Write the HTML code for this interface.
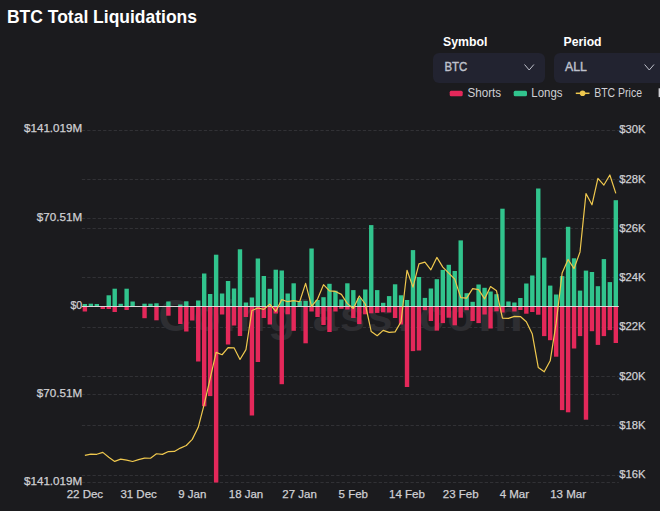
<!DOCTYPE html>
<html><head><meta charset="utf-8"><title>BTC Total Liquidations</title>
<style>
html,body{margin:0;padding:0;}
body{width:660px;height:511px;overflow:hidden;background:#1b1b1e;position:relative;font-family:'Liberation Sans', sans-serif;}
svg{position:absolute;left:0;top:0;}
.sel{position:absolute;top:53px;width:112px;height:30px;border-radius:6px;background:#222330;}
</style></head>
<body>
<div class="sel" style="left:433px"></div>
<div class="sel" style="left:554px"></div>
<svg width="660" height="511" viewBox="0 0 660 511">
<text x="7" y="23.3" font-family="'Liberation Sans', sans-serif" font-weight="bold" font-size="19" fill="#ffffff" textLength="190" lengthAdjust="spacingAndGlyphs">BTC Total Liquidations</text>
<text x="443" y="45.7" font-family="'Liberation Sans', sans-serif" font-weight="bold" font-size="13" fill="#ffffff" textLength="44.5" lengthAdjust="spacingAndGlyphs">Symbol</text>
<text x="563.6" y="45.7" font-family="'Liberation Sans', sans-serif" font-weight="bold" font-size="13" fill="#ffffff" textLength="38" lengthAdjust="spacingAndGlyphs">Period</text>
<text x="444.5" y="71.3" font-family="'Liberation Sans', sans-serif" font-size="13.5" fill="#bfc1cc" stroke="#bfc1cc" stroke-width="0.45" textLength="22.8" lengthAdjust="spacingAndGlyphs">BTC</text>
<text x="565" y="71.3" font-family="'Liberation Sans', sans-serif" font-size="13.5" fill="#bfc1cc" stroke="#bfc1cc" stroke-width="0.45" textLength="21.8" lengthAdjust="spacingAndGlyphs">ALL</text>
<polyline points="524.5,64.5 529.2,70 533.9,64.5" fill="none" stroke="#c0c2cc" stroke-width="1"/>
<polyline points="644.6,64.5 649.3,70 654,64.5" fill="none" stroke="#c0c2cc" stroke-width="1"/>
<rect x="449.7" y="90.8" width="13" height="5.4" rx="1.5" fill="#e4285a"/>
<text x="467.5" y="96.8" font-family="'Liberation Sans', sans-serif" font-size="12.5" fill="#d0d0d4" textLength="33.7" lengthAdjust="spacingAndGlyphs">Shorts</text>
<rect x="513.7" y="90.8" width="13.3" height="5.4" rx="1.5" fill="#31c48d"/>
<text x="531.3" y="96.8" font-family="'Liberation Sans', sans-serif" font-size="12.5" fill="#d0d0d4" textLength="31.2" lengthAdjust="spacingAndGlyphs">Longs</text>
<line x1="575.8" y1="93.3" x2="589.5" y2="93.3" stroke="#efc84e" stroke-width="1.5"/>
<circle cx="582.6" cy="93.3" r="2.8" fill="#efc84e"/>
<text x="594.2" y="96.8" font-family="'Liberation Sans', sans-serif" font-size="12.5" fill="#d0d0d4" textLength="47.8" lengthAdjust="spacingAndGlyphs">BTC Price</text>
<rect x="658.6" y="88.3" width="3" height="8.8" fill="#d0d0d4"/>
<line x1="81.9" y1="130.5" x2="618.8" y2="130.5" stroke="#313135" stroke-width="1" stroke-dasharray="3.3 2"/>
<line x1="81.9" y1="218.5" x2="618.8" y2="218.5" stroke="#313135" stroke-width="1" stroke-dasharray="3.3 2"/>
<line x1="81.9" y1="394.5" x2="618.8" y2="394.5" stroke="#313135" stroke-width="1" stroke-dasharray="3.3 2"/>
<line x1="81.9" y1="482.5" x2="618.8" y2="482.5" stroke="#313135" stroke-width="1" stroke-dasharray="3.3 2"/>
<line x1="81.9" y1="179.5" x2="618.8" y2="179.5" stroke="#313135" stroke-width="1" stroke-dasharray="3.3 2"/>
<line x1="81.9" y1="228.5" x2="618.8" y2="228.5" stroke="#313135" stroke-width="1" stroke-dasharray="3.3 2"/>
<line x1="81.9" y1="277.5" x2="618.8" y2="277.5" stroke="#313135" stroke-width="1" stroke-dasharray="3.3 2"/>
<line x1="81.9" y1="327.5" x2="618.8" y2="327.5" stroke="#313135" stroke-width="1" stroke-dasharray="3.3 2"/>
<line x1="81.9" y1="376.5" x2="618.8" y2="376.5" stroke="#313135" stroke-width="1" stroke-dasharray="3.3 2"/>
<line x1="81.9" y1="425.5" x2="618.8" y2="425.5" stroke="#313135" stroke-width="1" stroke-dasharray="3.3 2"/>
<line x1="81.9" y1="475.5" x2="618.8" y2="475.5" stroke="#313135" stroke-width="1" stroke-dasharray="3.3 2"/>
<text y="331" font-family="'Liberation Sans', sans-serif" font-size="45" font-weight="bold" fill="#2e2e32"><tspan x="158.5" textLength="234" lengthAdjust="spacing">Coinglass</tspan><tspan x="398">.</tspan><tspan x="419">c</tspan><tspan x="447">o</tspan><tspan x="478" textLength="45" lengthAdjust="spacingAndGlyphs">m</tspan></text>
<rect x="82.68" y="304.00" width="4.4" height="2.50" fill="#31c48d"/>
<rect x="82.68" y="306.5" width="4.4" height="5.00" fill="#e4285a"/>
<rect x="88.65" y="303.70" width="4.4" height="2.80" fill="#31c48d"/>
<rect x="94.61" y="304.00" width="4.4" height="2.50" fill="#31c48d"/>
<rect x="100.58" y="306.00" width="4.4" height="0.50" fill="#31c48d"/>
<rect x="100.58" y="306.5" width="4.4" height="2.50" fill="#e4285a"/>
<rect x="106.55" y="295.30" width="4.4" height="11.20" fill="#31c48d"/>
<rect x="106.55" y="306.5" width="4.4" height="2.50" fill="#e4285a"/>
<rect x="112.51" y="288.70" width="4.4" height="17.80" fill="#31c48d"/>
<rect x="112.51" y="306.5" width="4.4" height="5.50" fill="#e4285a"/>
<rect x="118.48" y="303.80" width="4.4" height="2.70" fill="#31c48d"/>
<rect x="124.44" y="288.70" width="4.4" height="17.80" fill="#31c48d"/>
<rect x="124.44" y="306.5" width="4.4" height="3.50" fill="#e4285a"/>
<rect x="130.41" y="301.50" width="4.4" height="5.00" fill="#31c48d"/>
<rect x="142.34" y="303.70" width="4.4" height="2.80" fill="#31c48d"/>
<rect x="142.34" y="306.5" width="4.4" height="11.70" fill="#e4285a"/>
<rect x="148.30" y="303.70" width="4.4" height="2.80" fill="#31c48d"/>
<rect x="154.27" y="303.30" width="4.4" height="3.20" fill="#31c48d"/>
<rect x="154.27" y="306.5" width="4.4" height="13.80" fill="#e4285a"/>
<rect x="166.20" y="301.50" width="4.4" height="5.00" fill="#31c48d"/>
<rect x="166.20" y="306.5" width="4.4" height="9.20" fill="#e4285a"/>
<rect x="178.13" y="304.50" width="4.4" height="2.00" fill="#31c48d"/>
<rect x="178.13" y="306.5" width="4.4" height="17.50" fill="#e4285a"/>
<rect x="184.10" y="301.30" width="4.4" height="5.20" fill="#31c48d"/>
<rect x="184.10" y="306.5" width="4.4" height="25.00" fill="#e4285a"/>
<rect x="190.06" y="306.5" width="4.4" height="14.00" fill="#e4285a"/>
<rect x="196.03" y="300.50" width="4.4" height="6.00" fill="#31c48d"/>
<rect x="196.03" y="306.5" width="4.4" height="55.00" fill="#e4285a"/>
<rect x="201.99" y="273.50" width="4.4" height="33.00" fill="#31c48d"/>
<rect x="201.99" y="306.5" width="4.4" height="99.80" fill="#e4285a"/>
<rect x="207.96" y="294.00" width="4.4" height="12.50" fill="#31c48d"/>
<rect x="207.96" y="306.5" width="4.4" height="89.60" fill="#e4285a"/>
<rect x="213.93" y="254.70" width="4.4" height="51.80" fill="#31c48d"/>
<rect x="213.93" y="306.5" width="4.4" height="176.00" fill="#e4285a"/>
<rect x="219.89" y="293.50" width="4.4" height="13.00" fill="#31c48d"/>
<rect x="219.89" y="306.5" width="4.4" height="8.00" fill="#e4285a"/>
<rect x="225.86" y="281.00" width="4.4" height="25.50" fill="#31c48d"/>
<rect x="225.86" y="306.5" width="4.4" height="38.00" fill="#e4285a"/>
<rect x="231.82" y="288.50" width="4.4" height="18.00" fill="#31c48d"/>
<rect x="231.82" y="306.5" width="4.4" height="19.00" fill="#e4285a"/>
<rect x="237.79" y="249.30" width="4.4" height="57.20" fill="#31c48d"/>
<rect x="237.79" y="306.5" width="4.4" height="29.50" fill="#e4285a"/>
<rect x="243.75" y="302.50" width="4.4" height="4.00" fill="#31c48d"/>
<rect x="243.75" y="306.5" width="4.4" height="10.50" fill="#e4285a"/>
<rect x="249.72" y="297.50" width="4.4" height="9.00" fill="#31c48d"/>
<rect x="249.72" y="306.5" width="4.4" height="109.00" fill="#e4285a"/>
<rect x="255.68" y="258.50" width="4.4" height="48.00" fill="#31c48d"/>
<rect x="255.68" y="306.5" width="4.4" height="55.50" fill="#e4285a"/>
<rect x="261.65" y="276.00" width="4.4" height="30.50" fill="#31c48d"/>
<rect x="261.65" y="306.5" width="4.4" height="11.50" fill="#e4285a"/>
<rect x="267.62" y="288.80" width="4.4" height="17.70" fill="#31c48d"/>
<rect x="267.62" y="306.5" width="4.4" height="18.00" fill="#e4285a"/>
<rect x="273.58" y="269.70" width="4.4" height="36.80" fill="#31c48d"/>
<rect x="273.58" y="306.5" width="4.4" height="7.00" fill="#e4285a"/>
<rect x="279.55" y="270.50" width="4.4" height="36.00" fill="#31c48d"/>
<rect x="279.55" y="306.5" width="4.4" height="77.70" fill="#e4285a"/>
<rect x="285.51" y="293.50" width="4.4" height="13.00" fill="#31c48d"/>
<rect x="285.51" y="306.5" width="4.4" height="7.80" fill="#e4285a"/>
<rect x="291.48" y="283.30" width="4.4" height="23.20" fill="#31c48d"/>
<rect x="291.48" y="306.5" width="4.4" height="24.30" fill="#e4285a"/>
<rect x="297.44" y="300.90" width="4.4" height="5.60" fill="#31c48d"/>
<rect x="303.41" y="300.90" width="4.4" height="5.60" fill="#31c48d"/>
<rect x="303.41" y="306.5" width="4.4" height="36.80" fill="#e4285a"/>
<rect x="309.37" y="248.50" width="4.4" height="58.00" fill="#31c48d"/>
<rect x="309.37" y="306.5" width="4.4" height="5.00" fill="#e4285a"/>
<rect x="315.34" y="300.00" width="4.4" height="6.50" fill="#31c48d"/>
<rect x="315.34" y="306.5" width="4.4" height="10.50" fill="#e4285a"/>
<rect x="321.31" y="297.20" width="4.4" height="9.30" fill="#31c48d"/>
<rect x="321.31" y="306.5" width="4.4" height="18.50" fill="#e4285a"/>
<rect x="327.27" y="283.80" width="4.4" height="22.70" fill="#31c48d"/>
<rect x="327.27" y="306.5" width="4.4" height="25.50" fill="#e4285a"/>
<rect x="333.24" y="290.70" width="4.4" height="15.80" fill="#31c48d"/>
<rect x="333.24" y="306.5" width="4.4" height="5.00" fill="#e4285a"/>
<rect x="339.20" y="299.50" width="4.4" height="7.00" fill="#31c48d"/>
<rect x="339.20" y="306.5" width="4.4" height="2.30" fill="#e4285a"/>
<rect x="345.17" y="283.30" width="4.4" height="23.20" fill="#31c48d"/>
<rect x="345.17" y="306.5" width="4.4" height="3.00" fill="#e4285a"/>
<rect x="351.13" y="290.10" width="4.4" height="16.40" fill="#31c48d"/>
<rect x="351.13" y="306.5" width="4.4" height="11.50" fill="#e4285a"/>
<rect x="357.10" y="298.10" width="4.4" height="8.40" fill="#31c48d"/>
<rect x="357.10" y="306.5" width="4.4" height="17.60" fill="#e4285a"/>
<rect x="363.06" y="289.50" width="4.4" height="17.00" fill="#31c48d"/>
<rect x="363.06" y="306.5" width="4.4" height="7.80" fill="#e4285a"/>
<rect x="369.03" y="225.10" width="4.4" height="81.40" fill="#31c48d"/>
<rect x="369.03" y="306.5" width="4.4" height="6.80" fill="#e4285a"/>
<rect x="375.00" y="290.10" width="4.4" height="16.40" fill="#31c48d"/>
<rect x="375.00" y="306.5" width="4.4" height="6.40" fill="#e4285a"/>
<rect x="380.96" y="302.80" width="4.4" height="3.70" fill="#31c48d"/>
<rect x="380.96" y="306.5" width="4.4" height="5.80" fill="#e4285a"/>
<rect x="386.93" y="296.10" width="4.4" height="10.40" fill="#31c48d"/>
<rect x="386.93" y="306.5" width="4.4" height="6.00" fill="#e4285a"/>
<rect x="392.89" y="284.30" width="4.4" height="22.20" fill="#31c48d"/>
<rect x="392.89" y="306.5" width="4.4" height="11.50" fill="#e4285a"/>
<rect x="398.86" y="295.30" width="4.4" height="11.20" fill="#31c48d"/>
<rect x="398.86" y="306.5" width="4.4" height="18.00" fill="#e4285a"/>
<rect x="404.82" y="300.00" width="4.4" height="6.50" fill="#31c48d"/>
<rect x="404.82" y="306.5" width="4.4" height="80.50" fill="#e4285a"/>
<rect x="410.79" y="250.10" width="4.4" height="56.40" fill="#31c48d"/>
<rect x="410.79" y="306.5" width="4.4" height="44.60" fill="#e4285a"/>
<rect x="416.75" y="277.00" width="4.4" height="29.50" fill="#31c48d"/>
<rect x="416.75" y="306.5" width="4.4" height="44.00" fill="#e4285a"/>
<rect x="422.72" y="297.90" width="4.4" height="8.60" fill="#31c48d"/>
<rect x="422.72" y="306.5" width="4.4" height="3.70" fill="#e4285a"/>
<rect x="428.69" y="288.50" width="4.4" height="18.00" fill="#31c48d"/>
<rect x="428.69" y="306.5" width="4.4" height="14.50" fill="#e4285a"/>
<rect x="434.65" y="279.20" width="4.4" height="27.30" fill="#31c48d"/>
<rect x="434.65" y="306.5" width="4.4" height="24.10" fill="#e4285a"/>
<rect x="440.62" y="269.90" width="4.4" height="36.60" fill="#31c48d"/>
<rect x="440.62" y="306.5" width="4.4" height="16.60" fill="#e4285a"/>
<rect x="446.58" y="264.80" width="4.4" height="41.70" fill="#31c48d"/>
<rect x="446.58" y="306.5" width="4.4" height="11.20" fill="#e4285a"/>
<rect x="452.55" y="271.00" width="4.4" height="35.50" fill="#31c48d"/>
<rect x="452.55" y="306.5" width="4.4" height="18.80" fill="#e4285a"/>
<rect x="458.51" y="240.40" width="4.4" height="66.10" fill="#31c48d"/>
<rect x="458.51" y="306.5" width="4.4" height="11.20" fill="#e4285a"/>
<rect x="464.48" y="293.20" width="4.4" height="13.30" fill="#31c48d"/>
<rect x="464.48" y="306.5" width="4.4" height="3.70" fill="#e4285a"/>
<rect x="470.44" y="301.80" width="4.4" height="4.70" fill="#31c48d"/>
<rect x="470.44" y="306.5" width="4.4" height="14.50" fill="#e4285a"/>
<rect x="476.41" y="284.50" width="4.4" height="22.00" fill="#31c48d"/>
<rect x="476.41" y="306.5" width="4.4" height="16.60" fill="#e4285a"/>
<rect x="482.38" y="287.80" width="4.4" height="18.70" fill="#31c48d"/>
<rect x="482.38" y="306.5" width="4.4" height="8.00" fill="#e4285a"/>
<rect x="488.34" y="291.50" width="4.4" height="15.00" fill="#31c48d"/>
<rect x="488.34" y="306.5" width="4.4" height="22.00" fill="#e4285a"/>
<rect x="494.31" y="294.20" width="4.4" height="12.30" fill="#31c48d"/>
<rect x="494.31" y="306.5" width="4.4" height="4.80" fill="#e4285a"/>
<rect x="500.27" y="208.70" width="4.4" height="97.80" fill="#31c48d"/>
<rect x="500.27" y="306.5" width="4.4" height="6.00" fill="#e4285a"/>
<rect x="506.24" y="301.50" width="4.4" height="5.00" fill="#31c48d"/>
<rect x="512.20" y="302.50" width="4.4" height="4.00" fill="#31c48d"/>
<rect x="512.20" y="306.5" width="4.4" height="5.00" fill="#e4285a"/>
<rect x="518.17" y="298.00" width="4.4" height="8.50" fill="#31c48d"/>
<rect x="518.17" y="306.5" width="4.4" height="3.50" fill="#e4285a"/>
<rect x="524.13" y="283.50" width="4.4" height="23.00" fill="#31c48d"/>
<rect x="524.13" y="306.5" width="4.4" height="7.20" fill="#e4285a"/>
<rect x="530.10" y="275.50" width="4.4" height="31.00" fill="#31c48d"/>
<rect x="530.10" y="306.5" width="4.4" height="5.50" fill="#e4285a"/>
<rect x="536.06" y="188.50" width="4.4" height="118.00" fill="#31c48d"/>
<rect x="536.06" y="306.5" width="4.4" height="8.20" fill="#e4285a"/>
<rect x="542.03" y="257.70" width="4.4" height="48.80" fill="#31c48d"/>
<rect x="542.03" y="306.5" width="4.4" height="29.60" fill="#e4285a"/>
<rect x="548.00" y="285.60" width="4.4" height="20.90" fill="#31c48d"/>
<rect x="548.00" y="306.5" width="4.4" height="33.70" fill="#e4285a"/>
<rect x="553.96" y="294.50" width="4.4" height="12.00" fill="#31c48d"/>
<rect x="553.96" y="306.5" width="4.4" height="50.20" fill="#e4285a"/>
<rect x="559.93" y="276.10" width="4.4" height="30.40" fill="#31c48d"/>
<rect x="559.93" y="306.5" width="4.4" height="103.60" fill="#e4285a"/>
<rect x="565.89" y="226.80" width="4.4" height="79.70" fill="#31c48d"/>
<rect x="565.89" y="306.5" width="4.4" height="105.80" fill="#e4285a"/>
<rect x="571.86" y="258.30" width="4.4" height="48.20" fill="#31c48d"/>
<rect x="571.86" y="306.5" width="4.4" height="42.00" fill="#e4285a"/>
<rect x="577.82" y="290.60" width="4.4" height="15.90" fill="#31c48d"/>
<rect x="577.82" y="306.5" width="4.4" height="29.60" fill="#e4285a"/>
<rect x="583.79" y="270.60" width="4.4" height="35.90" fill="#31c48d"/>
<rect x="583.79" y="306.5" width="4.4" height="113.20" fill="#e4285a"/>
<rect x="589.75" y="272.00" width="4.4" height="34.50" fill="#31c48d"/>
<rect x="589.75" y="306.5" width="4.4" height="24.70" fill="#e4285a"/>
<rect x="595.72" y="286.20" width="4.4" height="20.30" fill="#31c48d"/>
<rect x="595.72" y="306.5" width="4.4" height="38.40" fill="#e4285a"/>
<rect x="601.69" y="259.10" width="4.4" height="47.40" fill="#31c48d"/>
<rect x="601.69" y="306.5" width="4.4" height="29.60" fill="#e4285a"/>
<rect x="607.65" y="282.10" width="4.4" height="24.40" fill="#31c48d"/>
<rect x="607.65" y="306.5" width="4.4" height="23.60" fill="#e4285a"/>
<rect x="613.62" y="200.20" width="4.4" height="106.30" fill="#31c48d"/>
<rect x="613.62" y="306.5" width="4.4" height="36.50" fill="#e4285a"/>
<line x1="81.9" y1="306.5" x2="618.8" y2="306.5" stroke="#dcd8da" stroke-width="1"/>
<polyline points="84.88,455.38 90.85,454.13 96.81,454.28 102.78,452.35 108.75,457.33 114.71,461.40 120.68,459.18 126.64,460.17 132.61,461.52 138.57,459.60 144.54,458.05 150.50,458.24 156.47,453.73 162.44,454.40 168.40,451.56 174.37,451.47 180.33,448.09 186.30,445.53 192.26,439.37 198.23,427.34 204.19,404.30 210.16,378.65 216.12,352.38 222.09,354.74 228.06,347.62 234.02,347.82 239.99,359.47 245.95,349.67 251.92,310.48 257.88,308.00 263.85,309.40 269.81,304.13 275.78,311.47 281.75,299.62 287.71,301.71 293.68,300.58 299.64,301.74 305.61,283.43 311.57,306.44 317.54,299.07 323.50,284.68 329.47,290.89 335.44,291.44 341.40,294.34 347.37,303.61 353.33,308.41 359.30,295.99 365.26,304.00 371.23,331.60 377.20,335.74 383.16,330.35 389.13,332.37 395.09,331.87 401.06,321.72 407.02,270.29 412.99,287.15 418.95,263.93 424.92,262.06 430.88,269.80 436.85,257.43 442.82,267.09 448.78,273.20 454.75,279.16 460.71,297.62 466.68,298.19 472.64,288.68 478.61,289.64 484.58,298.88 490.54,286.58 496.51,290.79 502.47,318.22 508.44,318.42 514.40,316.42 520.37,316.57 526.33,321.75 532.30,334.09 538.26,367.48 544.23,371.82 550.20,360.83 556.16,323.13 562.13,273.00 568.09,259.47 574.06,268.62 580.02,251.93 585.99,193.50 591.96,204.79 597.92,178.35 603.89,185.03 609.85,174.97 615.82,193.33" fill="none" stroke="#efc84e" stroke-width="1.2" stroke-linejoin="round"/>
<text x="24.0" y="131.9" font-family="'Liberation Sans', sans-serif" font-size="11.5" font-weight="normal" fill="#d0d0d4" stroke="#d0d0d4" stroke-width="0.25" text-anchor="start" textLength="58.2" lengthAdjust="spacingAndGlyphs">$141.019M</text>
<text x="36.8" y="220.8" font-family="'Liberation Sans', sans-serif" font-size="11.5" font-weight="normal" fill="#d0d0d4" stroke="#d0d0d4" stroke-width="0.25" text-anchor="start" textLength="45.4" lengthAdjust="spacingAndGlyphs">$70.51M</text>
<text x="70.4" y="308.8" font-family="'Liberation Sans', sans-serif" font-size="11.5" font-weight="normal" fill="#d0d0d4" stroke="#d0d0d4" stroke-width="0.25" text-anchor="start" textLength="11.8" lengthAdjust="spacingAndGlyphs">$0</text>
<text x="36.8" y="397.3" font-family="'Liberation Sans', sans-serif" font-size="11.5" font-weight="normal" fill="#d0d0d4" stroke="#d0d0d4" stroke-width="0.25" text-anchor="start" textLength="45.4" lengthAdjust="spacingAndGlyphs">$70.51M</text>
<text x="24.0" y="485.3" font-family="'Liberation Sans', sans-serif" font-size="11.5" font-weight="normal" fill="#d0d0d4" stroke="#d0d0d4" stroke-width="0.25" text-anchor="start" textLength="58.2" lengthAdjust="spacingAndGlyphs">$141.019M</text>
<text x="619.3" y="133.3" font-family="'Liberation Sans', sans-serif" font-size="11.5" font-weight="normal" fill="#d0d0d4" stroke="#d0d0d4" stroke-width="0.25" text-anchor="start" textLength="26.3" lengthAdjust="spacingAndGlyphs">$30K</text>
<text x="619.3" y="182.6" font-family="'Liberation Sans', sans-serif" font-size="11.5" font-weight="normal" fill="#d0d0d4" stroke="#d0d0d4" stroke-width="0.25" text-anchor="start" textLength="26.3" lengthAdjust="spacingAndGlyphs">$28K</text>
<text x="619.3" y="231.9" font-family="'Liberation Sans', sans-serif" font-size="11.5" font-weight="normal" fill="#d0d0d4" stroke="#d0d0d4" stroke-width="0.25" text-anchor="start" textLength="26.3" lengthAdjust="spacingAndGlyphs">$26K</text>
<text x="619.3" y="281.2" font-family="'Liberation Sans', sans-serif" font-size="11.5" font-weight="normal" fill="#d0d0d4" stroke="#d0d0d4" stroke-width="0.25" text-anchor="start" textLength="26.3" lengthAdjust="spacingAndGlyphs">$24K</text>
<text x="619.3" y="330.4" font-family="'Liberation Sans', sans-serif" font-size="11.5" font-weight="normal" fill="#d0d0d4" stroke="#d0d0d4" stroke-width="0.25" text-anchor="start" textLength="26.3" lengthAdjust="spacingAndGlyphs">$22K</text>
<text x="619.3" y="379.7" font-family="'Liberation Sans', sans-serif" font-size="11.5" font-weight="normal" fill="#d0d0d4" stroke="#d0d0d4" stroke-width="0.25" text-anchor="start" textLength="26.3" lengthAdjust="spacingAndGlyphs">$20K</text>
<text x="619.3" y="429.0" font-family="'Liberation Sans', sans-serif" font-size="11.5" font-weight="normal" fill="#d0d0d4" stroke="#d0d0d4" stroke-width="0.25" text-anchor="start" textLength="26.3" lengthAdjust="spacingAndGlyphs">$18K</text>
<text x="619.3" y="478.3" font-family="'Liberation Sans', sans-serif" font-size="11.5" font-weight="normal" fill="#d0d0d4" stroke="#d0d0d4" stroke-width="0.25" text-anchor="start" textLength="26.3" lengthAdjust="spacingAndGlyphs">$16K</text>
<text x="84.9" y="498.2" font-family="'Liberation Sans', sans-serif" font-size="11.5" font-weight="normal" fill="#d0d0d4" stroke="#d0d0d4" stroke-width="0.25" text-anchor="middle">22 Dec</text>
<text x="138.6" y="498.2" font-family="'Liberation Sans', sans-serif" font-size="11.5" font-weight="normal" fill="#d0d0d4" stroke="#d0d0d4" stroke-width="0.25" text-anchor="middle">31 Dec</text>
<text x="192.3" y="498.2" font-family="'Liberation Sans', sans-serif" font-size="11.5" font-weight="normal" fill="#d0d0d4" stroke="#d0d0d4" stroke-width="0.25" text-anchor="middle">9 Jan</text>
<text x="246.0" y="498.2" font-family="'Liberation Sans', sans-serif" font-size="11.5" font-weight="normal" fill="#d0d0d4" stroke="#d0d0d4" stroke-width="0.25" text-anchor="middle">18 Jan</text>
<text x="299.6" y="498.2" font-family="'Liberation Sans', sans-serif" font-size="11.5" font-weight="normal" fill="#d0d0d4" stroke="#d0d0d4" stroke-width="0.25" text-anchor="middle">27 Jan</text>
<text x="353.3" y="498.2" font-family="'Liberation Sans', sans-serif" font-size="11.5" font-weight="normal" fill="#d0d0d4" stroke="#d0d0d4" stroke-width="0.25" text-anchor="middle">5 Feb</text>
<text x="407.0" y="498.2" font-family="'Liberation Sans', sans-serif" font-size="11.5" font-weight="normal" fill="#d0d0d4" stroke="#d0d0d4" stroke-width="0.25" text-anchor="middle">14 Feb</text>
<text x="460.7" y="498.2" font-family="'Liberation Sans', sans-serif" font-size="11.5" font-weight="normal" fill="#d0d0d4" stroke="#d0d0d4" stroke-width="0.25" text-anchor="middle">23 Feb</text>
<text x="514.4" y="498.2" font-family="'Liberation Sans', sans-serif" font-size="11.5" font-weight="normal" fill="#d0d0d4" stroke="#d0d0d4" stroke-width="0.25" text-anchor="middle">4 Mar</text>
<text x="568.1" y="498.2" font-family="'Liberation Sans', sans-serif" font-size="11.5" font-weight="normal" fill="#d0d0d4" stroke="#d0d0d4" stroke-width="0.25" text-anchor="middle">13 Mar</text>
</svg>
</body></html>
